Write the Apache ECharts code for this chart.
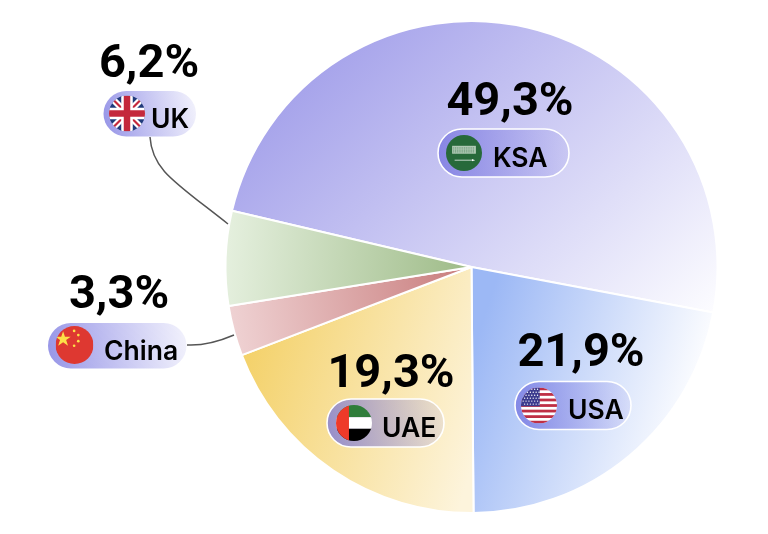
<!DOCTYPE html>
<html><head><meta charset="utf-8">
<style>html,body{margin:0;padding:0;background:#fff}#c{width:768px;height:534px}</style>
<script src="https://cdn.jsdelivr.net/npm/echarts@6/dist/echarts.min.js"></script>
</head><body><div id="c"></div>
<script>
const categories = ['KSA','USA','UAE','China','UK'];
const values = [49.3,21.9,19.3,3.3,6.2];

const gradients = [
  [330,30,660,370,'#a3a0ea','#fdfdff'],
  [480,330,700,400,'#9cb8f5','#ffffff'],
  [245,370,480,440,'#f4d26c','#fdf4dc'],
  [232,335,468,300,'#efd2d3','#c97e7e'],
  [228,260,465,275,'#e4efdd','#9fbc89']
];
const labelPos = [[510,103],[581,354],[391,375],[119,296],[149,65]];
const pills = [
  {x:438,y:129,w:131,h:48,fx:464,fy:153,r:18,tx:493,ty:159.5,stroke:true},
  {x:515,y:381.5,w:116,h:48,fx:539,fy:405.5,r:18,tx:568,ty:411.5,stroke:true},
  {x:327,y:399,w:117,h:48,fx:354,fy:423,r:18,tx:382,ty:429.5,stroke:true},
  {x:48,y:323,w:138.5,h:45.5,fx:74.5,fy:345,r:19,tx:104,ty:352,stroke:false},
  {x:103.5,y:91,w:92.5,h:45.5,fx:127,fy:113.5,r:18,tx:151,ty:120,stroke:false}
];
const wrap = (id, body) => `<svg xmlns="http://www.w3.org/2000/svg" viewBox="0 0 100 100" width="200" height="200"><defs><clipPath id="${id}"><circle cx="50" cy="50" r="50"/></clipPath></defs><g clip-path="url(#${id})">${body}</g></svg>`;
let usStars = '';
for (let r=0;r<6;r++) for (let c=0;c<6;c++) usStars += `<circle cx="${6+c*8+(r%2?4:0)}" cy="${5+r*8.2}" r="1.9" fill="#fff"/>`;
let usStripes = '';
for (let i=0;i<7;i++) usStripes += `<rect x="0" y="${i*15.4}" width="100" height="7.7" fill="#bf2f45"/>`;
const flags = [
  wrap('k',`<rect width="100" height="100" fill="#27693a"/><rect x="17" y="30" width="66" height="22" fill="#dfeadf" opacity=".75"/><path d="M20 36h60M20 42h60M20 47h60" stroke="#27693a" stroke-width="1.6" stroke-dasharray="3 2"/><path d="M24 70h48" stroke="#fff" stroke-width="2"/><path d="M72 67l9 3-9 3z" fill="#fff"/>`),
  wrap('u',`<rect width="100" height="100" fill="#fff"/>${usStripes}<rect width="52" height="52" fill="#3c3b8e"/>${usStars}`),
  wrap('a',`<rect width="100" height="34" fill="#2f7d3a"/><rect y="34" width="100" height="32" fill="#fff"/><rect y="66" width="100" height="34" fill="#000"/><rect width="36" height="100" fill="#ee3a29"/>`),
  wrap('c',`<rect width="100" height="100" fill="#de3831"/><path d="M20 14l5 14h15l-12 9 5 15-13-9-13 9 5-15L0 28h15z" fill="#fde047"/><circle cx="49" cy="13" r="3.5" fill="#fde047"/><circle cx="60" cy="24" r="3.5" fill="#fde047"/><circle cx="60" cy="40" r="3.5" fill="#fde047"/><circle cx="49" cy="52" r="3.5" fill="#fde047"/>`),
  wrap('b',`<rect width="100" height="100" fill="#1f3a7a"/><path d="M0 0L100 100M100 0L0 100" stroke="#fff" stroke-width="18"/><path d="M0 0L100 100M100 0L0 100" stroke="#c4283c" stroke-width="6"/><rect x="34" width="32" height="100" fill="#fff"/><rect y="34" width="100" height="32" fill="#fff"/><rect x="41" width="18" height="100" fill="#c4283c"/><rect y="41" width="100" height="18" fill="#c4283c"/>`)
];
const pct = v => v.toFixed(1).replace('.',',') + '%';

const graphic = [
  {type:'bezierCurve',z:5,shape:{x1:150,y1:137,cpx1:152,cpy1:170,cpx2:175,cpy2:182,x2:228,y2:224},style:{stroke:'#555',lineWidth:1.5,fill:null}},
  {type:'bezierCurve',z:5,shape:{x1:187,y1:345,cpx1:205,cpy1:346,cpx2:220,cpy2:341,x2:234,y2:335},style:{stroke:'#555',lineWidth:1.5,fill:null}}
];
pills.forEach((p,i)=>{
  graphic.push({type:'rect',z:6,shape:{x:p.x,y:p.y,width:p.w,height:p.h,r:p.h/2},
    style:{fill:{type:'linear',x:0,y:0.7,x2:1,y2:0.3,colorStops:[{offset:0,color:'rgba(112,110,222,0.72)'},{offset:1,color:'rgba(120,118,225,0.1)'}]},
    stroke:p.stroke?'#fff':null,lineWidth:p.stroke?1.6:0}});
  graphic.push({type:'image',z:7,style:{image:'data:image/svg+xml;charset=utf-8,'+encodeURIComponent(flags[i]),x:p.fx-p.r,y:p.fy-p.r,width:p.r*2,height:p.r*2}});
  graphic.push({type:'text',z:8,style:{x:p.tx,y:p.ty,text:categories[i],fill:'#000',font:'600 26.5px Inter, sans-serif',textAlign:'left',textVerticalAlign:'middle'}});
});

const chart = echarts.init(document.getElementById('c'),null,{renderer:'canvas'});
chart.setOption({
  animation:false,
  graphic:graphic,
  series:[{
    type:'pie',
    center:[471.5,267],
    radius:[0,246],
    startAngle:166.8,
    clockwise:true,
    silent:true,
    data:categories.map((n,i)=>{
      const g=gradients[i];
      return {name:n,value:values[i],itemStyle:{color:{type:'linear',global:true,x:g[0],y:g[1],x2:g[2],y2:g[3],colorStops:[{offset:0,color:g[4]},{offset:1,color:g[5]}]}}};
    }),
    itemStyle:{borderColor:'#fff',borderWidth:2},
    label:{show:true,position:'inside',formatter:p=>pct(p.value),color:'#000',fontFamily:'Roboto, sans-serif',fontWeight:700,fontSize:47},
    labelLine:{show:false},
    labelLayout:p=>({x:labelPos[p.dataIndex][0],y:labelPos[p.dataIndex][1],align:'center',verticalAlign:'middle'})
  }]
});
</script></body></html>
